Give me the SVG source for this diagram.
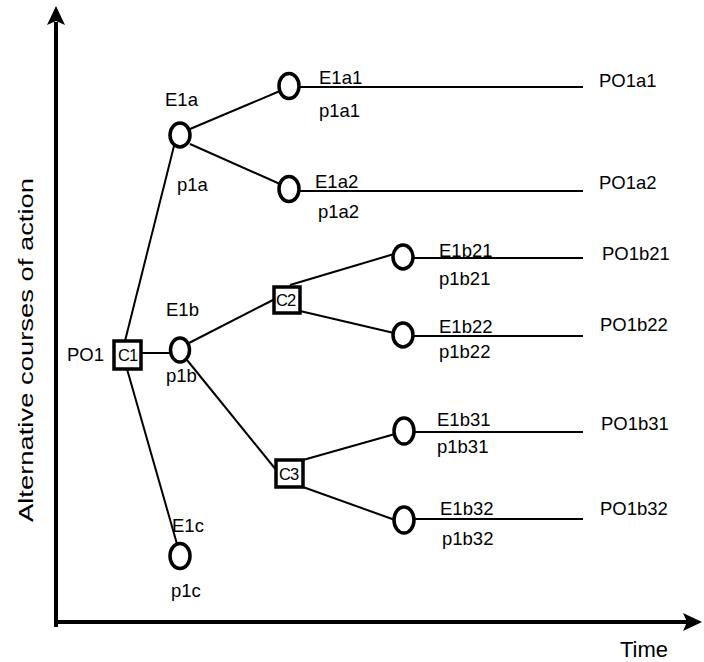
<svg xmlns="http://www.w3.org/2000/svg" width="704" height="662" viewBox="0 0 704 662">
<style>
text{font-family:"Liberation Sans",Arial,sans-serif;font-size:18.5px;fill:#000}
.box{fill:#fff;stroke:#000;stroke-width:3.5}
.ev{fill:#fff;stroke:#000;stroke-width:3.5}
.bl{font-size:16.5px;letter-spacing:-1px}
#connectors line{stroke:#000;stroke-width:2}
.axis{stroke:#000;stroke-width:4}
</style>
<rect width="704" height="662" fill="#fff"/>
<g id="axes">
<line class="axis" x1="56" y1="627" x2="56" y2="22"/>
<polygon points="56,6 65,25 56,21 47,25" fill="#000"/>
<line class="axis" x1="54" y1="622" x2="690" y2="622"/>
<polygon points="702,622 683,631 687,622 683,613" fill="#000"/>
<text x="620" y="657" style="font-size:22px">Time</text>
<text transform="translate(33,522) rotate(-90)" style="font-size:21px" textLength="344" lengthAdjust="spacingAndGlyphs">Alternative courses of action</text>
</g>
<g id="connectors">
<line x1="125" y1="341" x2="174" y2="146"/>
<line x1="127" y1="369" x2="177" y2="544"/>
<line x1="141" y1="353" x2="171" y2="353"/>
<line x1="190" y1="129" x2="280" y2="91"/>
<line x1="190" y1="144" x2="280" y2="184"/>
<line x1="300" y1="87" x2="583" y2="87"/>
<line x1="299" y1="191" x2="583" y2="191"/>
<line x1="189" y1="343" x2="275" y2="299"/>
<line x1="290" y1="285" x2="394" y2="254"/>
<line x1="300" y1="311" x2="394" y2="333"/>
<line x1="413" y1="258" x2="583" y2="258"/>
<line x1="413" y1="336" x2="583" y2="336"/>
<line x1="187" y1="360" x2="277" y2="471"/>
<line x1="303" y1="460" x2="395" y2="434"/>
<line x1="303" y1="487" x2="395" y2="520"/>
<line x1="414" y1="432" x2="583" y2="432"/>
<line x1="414" y1="519" x2="583" y2="519"/>
</g>
<g id="C1"><rect class="box" x="114" y="341" width="27" height="28"/><text class="bl" x="118" y="361">C1</text><text x="67" y="361">PO1</text></g>
<g id="C2"><rect class="box" x="274" y="287" width="26" height="26"/><text class="bl" x="276" y="306">C2</text></g>
<g id="C3"><rect class="box" x="276" y="460" width="27" height="27"/><text class="bl" x="279" y="480">C3</text></g>
<g id="E1a"><ellipse class="ev" cx="180" cy="135" rx="10" ry="12"/><text x="165" y="106">E1a</text><text x="177" y="191">p1a</text></g>
<g id="E1b"><ellipse class="ev" cx="180" cy="350" rx="9.5" ry="12"/><text x="166" y="316">E1b</text><text x="166" y="382">p1b</text></g>
<g id="E1c"><ellipse class="ev" cx="180" cy="556" rx="10" ry="12.5"/><text x="172" y="532">E1c</text><text x="171" y="597">p1c</text></g>
<g id="E1a1"><ellipse class="ev" cx="289" cy="86" rx="10" ry="12.5"/><text x="319" y="84">E1a1</text><text x="319" y="117">p1a1</text><text x="599" y="87">PO1a1</text></g>
<g id="E1a2"><ellipse class="ev" cx="289" cy="189" rx="10" ry="12.5"/><text x="315" y="188">E1a2</text><text x="318" y="218">p1a2</text><text x="599" y="189">PO1a2</text></g>
<g id="E1b21"><ellipse class="ev" cx="403" cy="257" rx="10" ry="12"/><text x="439" y="257">E1b21</text><text x="439" y="285">p1b21</text><text x="602" y="260">PO1b21</text></g>
<g id="E1b22"><ellipse class="ev" cx="403" cy="335" rx="10" ry="12"/><text x="439" y="333">E1b22</text><text x="439" y="358">p1b22</text><text x="600" y="331">PO1b22</text></g>
<g id="E1b31"><ellipse class="ev" cx="404" cy="431" rx="10" ry="13"/><text x="437" y="426">E1b31</text><text x="437" y="453">p1b31</text><text x="601" y="430">PO1b31</text></g>
<g id="E1b32"><ellipse class="ev" cx="404" cy="520" rx="10" ry="13"/><text x="440" y="515">E1b32</text><text x="442" y="545">p1b32</text><text x="600" y="515">PO1b32</text></g>
</svg>
